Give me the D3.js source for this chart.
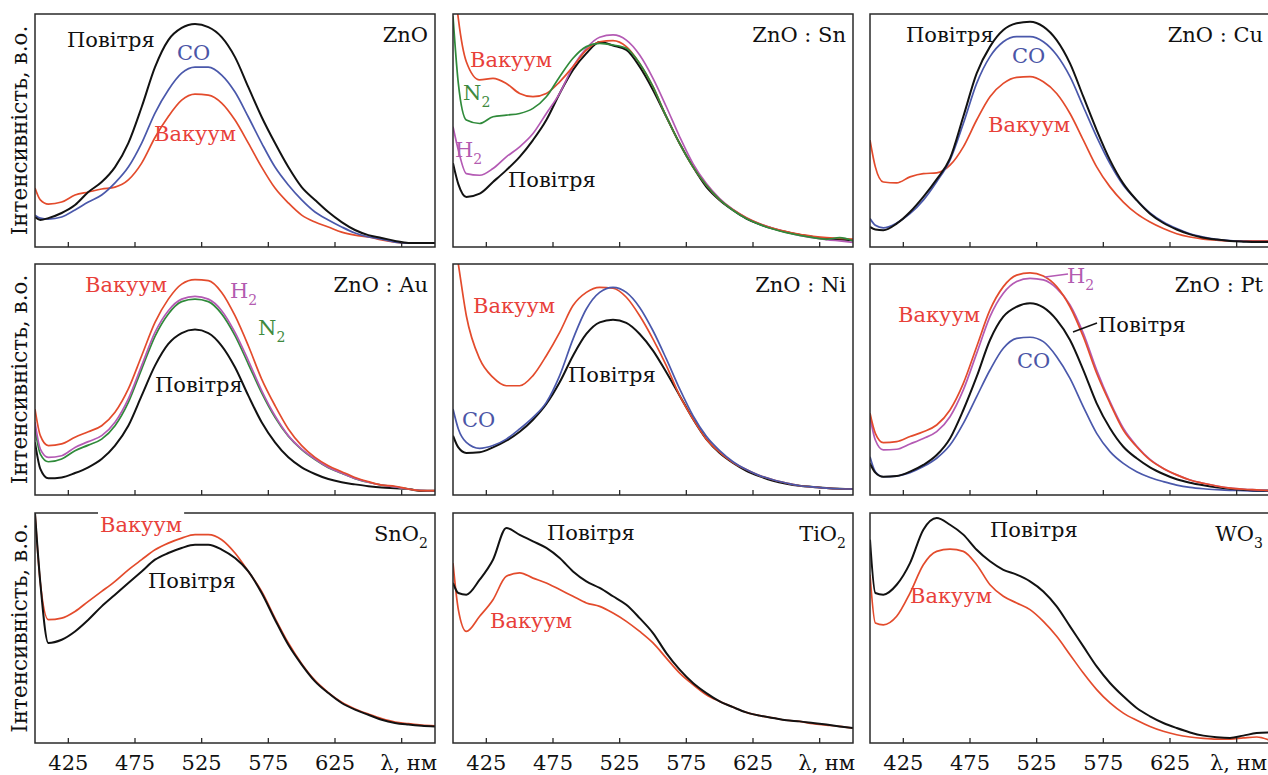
<!DOCTYPE html>
<html>
<head>
<meta charset="utf-8">
<script src="https://cdn.jsdelivr.net/npm/d3@7"></script>
<style>
  body { margin: 0; background: #fff; }
  svg { display: block; }
  text { font-family: "DejaVu Serif", "Liberation Serif", serif; }
</style>
</head>
<body>
<svg id="chart" width="1268" height="775"></svg>
<script>
'use strict';

// wavelengths, nm
var wl = [400, 404, 410, 420, 430, 440, 450, 460, 470, 480, 490, 500, 510, 520, 530, 540,
  550, 560, 570, 580, 590, 600, 610, 620, 630, 640, 650, 660, 670, 680, 690, 700];

var tickValues = [425, 475, 525, 575, 625, 675];
var tickLabels = ['425', '475', '525', '575', '625', 'λ, нм'];

// intensity, a.u. (0 = bottom of panel, 100 = top)
// ZnO
var znoAir = [12.9, 11.6, 12.4, 14.6, 18.0, 23.6, 27.9, 34.3, 44.6, 60.1, 77.2, 88.8, 94.0, 95.7, 94.4, 90.1,
  81.5, 68.6, 55.8, 44.6, 34.3, 25.7, 20.2, 15.0, 10.7, 7.3, 5.1, 3.9, 2.6, 1.7, 1.7, 1.7];
var znoCO = [13.7, 12.4, 12.0, 12.9, 15.9, 19.3, 22.3, 27.5, 34.3, 44.6, 57.5, 67.4, 74.6, 77.2, 77.2, 73.8,
  66.5, 55.8, 44.6, 34.3, 26.6, 20.2, 15.0, 11.6, 8.6, 6.0, 4.3, 3.4, 2.1, 1.7, 1.7, 1.7];
var znoVac = [25.3, 20.2, 18.4, 19.3, 22.3, 23.6, 24.9, 25.7, 28.8, 36.0, 47.0, 56.0, 63.0, 65.6, 65.2, 61.8,
  54.5, 44.6, 34.3, 25.3, 18.9, 13.7, 10.7, 8.6, 6.4, 5.1, 4.3, 3.0, 2.1, 1.7, 1.7, 1.7];

// ZnO:Sn
var snAir = [36.0, 27.0, 21.5, 22.9, 27.9, 33.0, 38.7, 45.9, 54.5, 65.9, 76.0, 83.1, 88.0, 86.5, 84.6, 77.4,
  67.4, 55.9, 44.4, 34.4, 25.8, 20.1, 15.8, 12.2, 9.7, 7.9, 6.4, 5.3, 4.3, 3.6, 3.2, 2.9];
var snH2 = [51.6, 41.6, 31.5, 30.8, 33.7, 38.7, 43.0, 48.7, 57.3, 65.9, 77.4, 85.3, 90.0, 91.0, 88.8, 82.4,
  72.4, 60.2, 47.3, 35.8, 27.2, 20.8, 16.1, 12.6, 10.0, 8.0, 6.4, 5.0, 4.0, 3.2, 2.6, 2.0];
var snN2 = [99.0, 70.2, 54.5, 53.0, 55.9, 56.6, 57.3, 59.5, 64.5, 73.1, 81.0, 86.0, 87.4, 86.7, 85.3, 78.8,
  68.8, 55.9, 44.4, 34.4, 26.5, 20.3, 15.8, 12.2, 9.7, 7.7, 6.2, 5.0, 4.0, 3.3, 4.0, 2.6];
var snVac = [120, 98.0, 79.5, 71.7, 72.4, 70.2, 65.9, 64.5, 65.9, 70.9, 77.4, 84.5, 88.1, 88.6, 86.0, 78.8,
  68.8, 55.9, 44.4, 34.4, 26.5, 20.3, 16.0, 12.6, 10.0, 8.0, 6.6, 5.4, 4.6, 4.0, 3.7, 3.4];

// ZnO:Cu
var cuAir = [8.6, 7.5, 7.2, 10.0, 15.0, 21.5, 29.0, 38.0, 56.0, 74.5, 86.0, 93.1, 96.0, 96.7, 94.6, 88.8,
  78.8, 64.5, 50.2, 37.3, 27.2, 20.1, 14.3, 10.3, 7.5, 5.4, 4.0, 3.2, 2.6, 2.3, 2.1, 2.1];
var cuCO = [12.2, 9.3, 8.2, 10.3, 14.3, 20.1, 28.0, 37.3, 53.0, 70.2, 81.7, 88.1, 90.3, 90.3, 88.1, 82.4,
  73.1, 60.2, 47.3, 35.8, 26.5, 20.1, 14.6, 10.7, 7.9, 5.7, 4.3, 3.3, 2.7, 2.4, 2.3, 2.3];
var cuVac = [45.9, 34.4, 27.9, 27.5, 30.1, 31.5, 31.8, 35.1, 43.0, 54.5, 64.5, 70.2, 72.8, 73.1, 70.9, 65.9,
  57.3, 45.9, 34.4, 25.8, 19.3, 14.3, 10.7, 7.9, 5.7, 4.3, 3.4, 2.9, 2.6, 2.6, 2.6, 2.6];

// ZnO:Au
var auVac = [37.2, 25.7, 21.4, 22.1, 25.0, 27.4, 30.0, 35.8, 45.9, 60.3, 74.7, 84.8, 91.3, 93.2, 92.8, 87.7,
  77.6, 64.6, 50.2, 38.7, 28.6, 21.4, 16.3, 12.7, 10.1, 7.6, 5.8, 4.3, 3.8, 2.6, 1.9, 1.9];
var auH2 = [31.5, 19.9, 16.3, 17.0, 20.6, 23.1, 25.7, 31.5, 41.6, 56.0, 70.4, 79.8, 84.8, 86.0, 84.8, 79.8,
  70.4, 58.2, 45.2, 34.3, 25.7, 19.9, 15.6, 12.0, 9.5, 7.2, 5.5, 4.3, 3.5, 2.6, 2.0, 1.9];
var auN2 = [28.6, 17.7, 14.4, 15.6, 19.2, 21.6, 24.2, 30.0, 40.1, 54.5, 68.7, 78.4, 83.7, 84.8, 83.7, 78.4,
  69.0, 56.7, 44.2, 33.6, 25.4, 19.6, 15.3, 11.8, 9.4, 7.1, 5.5, 4.3, 3.5, 2.6, 2.0, 1.9];
var auAir = [22.8, 11.3, 7.2, 7.6, 9.5, 12.0, 15.6, 21.4, 30.0, 43.0, 56.0, 65.4, 70.1, 71.6, 70.1, 64.6,
  55.3, 43.0, 31.5, 22.8, 16.3, 12.0, 9.1, 6.9, 5.5, 4.6, 3.8, 3.2, 2.9, 2.6, 1.7, 1.7];

// ZnO:Ni
var niVac = [115, 100, 77.6, 58.9, 50.9, 47.3, 47.3, 51.7, 60.3, 70.4, 82.0, 87.7, 89.9, 89.5, 85.6, 77.6,
  67.5, 56.0, 43.0, 32.9, 24.2, 18.5, 14.1, 11.0, 8.4, 6.6, 5.2, 4.0, 3.5, 3.0, 2.7, 2.6];
var niCO = [37.2, 28.6, 22.8, 20.2, 21.4, 24.2, 28.6, 33.6, 40.1, 51.7, 67.5, 80.5, 87.7, 89.9, 87.7, 81.2,
  71.1, 58.9, 45.9, 34.3, 25.4, 19.2, 14.4, 11.0, 8.4, 6.6, 5.2, 4.0, 3.5, 3.0, 2.7, 2.6];
var niAir = [25.7, 20.6, 18.2, 18.5, 20.6, 23.5, 27.4, 32.6, 39.4, 48.8, 60.3, 69.7, 74.7, 75.9, 74.5, 69.7,
  62.5, 53.1, 43.0, 32.9, 24.2, 18.2, 13.9, 10.5, 8.1, 6.2, 4.9, 4.0, 3.5, 3.0, 2.7, 2.6];

// ZnO:Pt
var ptVac = [35.4, 26.7, 22.7, 23.1, 25.3, 27.4, 30.3, 36.8, 48.3, 64.2, 80.1, 90.2, 95.2, 96.2, 94.8, 90.2,
  81.5, 68.5, 52.7, 39.7, 28.1, 20.9, 15.2, 11.5, 8.7, 6.5, 5.1, 3.9, 3.0, 2.5, 2.2, 1.9];
var ptH2 = [33.9, 23.8, 19.5, 19.8, 22.1, 24.5, 27.4, 33.9, 45.5, 61.3, 77.2, 87.3, 92.4, 93.8, 93.1, 89.5,
  82.3, 70.0, 54.1, 40.4, 28.9, 21.2, 15.4, 11.5, 8.7, 6.5, 5.1, 3.9, 3.0, 2.5, 2.2, 1.9];
var ptAir = [13.7, 9.7, 7.9, 8.2, 10.1, 13.0, 17.3, 24.5, 36.8, 51.2, 67.1, 77.2, 81.5, 83.0, 81.2, 75.8,
  67.1, 54.1, 39.7, 28.9, 20.9, 15.9, 12.0, 9.1, 6.8, 5.3, 4.2, 3.3, 2.7, 2.3, 2.0, 1.9];
var ptCO = [16.6, 10.1, 7.9, 8.2, 9.7, 12.3, 15.9, 21.6, 31.0, 42.6, 54.1, 63.5, 67.8, 68.3, 66.4, 59.9,
  50.5, 38.2, 26.7, 18.8, 13.7, 10.1, 7.6, 5.8, 4.3, 3.3, 2.7, 2.3, 2.0, 1.9, 1.7, 1.7];

// SnO2
var sno2Vac = [100, 69.6, 53.6, 54.3, 57.2, 61.6, 65.9, 70.3, 75.3, 79.7, 84.0, 86.9, 89.1, 90.6, 90.6, 88.4,
  82.6, 74.6, 65.9, 54.3, 43.5, 34.5, 27.2, 21.9, 17.7, 14.8, 12.6, 10.6, 9.1, 8.4, 7.8, 7.5];
var sno2Air = [100, 69.6, 43.5, 44.9, 48.5, 53.6, 59.4, 64.5, 69.6, 74.6, 79.7, 82.6, 84.8, 86.2, 86.2, 84.1,
  80.4, 74.6, 65.2, 53.6, 42.7, 34.1, 26.8, 21.7, 17.4, 14.5, 12.3, 10.1, 8.7, 8.0, 7.5, 7.2];

// TiO2
var tio2Air = [69.6, 65.2, 64.5, 71.0, 79.7, 93.5, 90.5, 87.7, 84.8, 80.4, 74.6, 70.3, 67.4, 63.8, 60.1, 54.3,
  47.8, 39.1, 31.9, 26.1, 21.7, 18.1, 15.6, 13.3, 11.9, 10.9, 9.9, 9.4, 8.7, 8.0, 7.2, 6.5];
var tio2Vac = [78.2, 58.0, 48.5, 55.1, 62.3, 72.5, 74.0, 71.7, 69.6, 66.7, 63.8, 60.9, 59.4, 56.5, 52.9, 48.5,
  43.5, 36.9, 30.4, 25.4, 21.0, 18.1, 15.6, 13.3, 11.9, 10.9, 9.9, 9.4, 8.4, 7.8, 7.2, 6.4];

// WO3
var wo3Air = [88.4, 65.2, 64.5, 68.8, 78.2, 92.7, 97.8, 94.9, 90.6, 84.0, 79.0, 75.3, 73.2, 70.3, 65.9, 59.4,
  50.7, 42.0, 33.3, 26.1, 20.3, 15.2, 11.6, 8.7, 6.5, 4.6, 3.2, 2.5, 2.2, 3.2, 4.3, 4.6];
var wo3Vac = [73.2, 52.2, 51.4, 55.1, 65.2, 77.5, 83.3, 84.3, 83.3, 77.5, 68.8, 63.8, 60.9, 58.0, 52.9, 46.4,
  38.4, 30.4, 23.2, 17.4, 13.0, 9.9, 7.2, 5.1, 3.6, 2.6, 2.0, 1.7, 1.7, 2.2, 2.6, 1.2];

var C = {
  air: '#121212', co: '#4a58ab', vac: '#e34b2c', h2: '#b45ab4', n2: '#2f8a3a'
};
var T = {
  air: '#111', co: '#4b55a6', vac: '#e8403a', h2: '#b35bb0', n2: '#3e8a3e'
};

var colX = [35, 453, 870];
var rowY = [14, 264, 513];
var rowH = [233, 231, 230];
var W = 400;

// label: [series key, text, subscript, x, baseline, white box?]
var panels = [
  { title: 'ZnO', col: 0, row: 0,
    series: [['vac', znoVac], ['co', znoCO], ['air', znoAir]],
    labels: [['air', 'Повітря', '', 32, 33], ['co', 'CO', '', 142, 46], ['vac', 'Вакуум', '', 119, 127]] },
  { title: 'ZnO : Sn', col: 1, row: 0,
    series: [['air', snAir], ['h2', snH2], ['vac', snVac], ['n2', snN2]],
    labels: [['vac', 'Вакуум', '', 17, 53], ['n2', 'N', '2', 10, 86], ['h2', 'H', '2', 2, 143], ['air', 'Повітря', '', 55, 173]] },
  { title: 'ZnO : Cu', col: 2, row: 0,
    series: [['vac', cuVac], ['co', cuCO], ['air', cuAir]],
    labels: [['air', 'Повітря', '', 36, 28], ['co', 'CO', '', 142, 49], ['vac', 'Вакуум', '', 118, 118]] },
  { title: 'ZnO : Au', col: 0, row: 1,
    series: [['air', auAir], ['n2', auN2], ['h2', auH2], ['vac', auVac]],
    labels: [['vac', 'Вакуум', '', 50, 28], ['h2', 'H', '2', 195, 34], ['n2', 'N', '2', 223, 71], ['air', 'Повітря', '', 120, 128]] },
  { title: 'ZnO : Ni', col: 1, row: 1,
    series: [['air', niAir], ['vac', niVac], ['co', niCO]],
    labels: [['vac', 'Вакуум', '', 20, 49], ['co', 'CO', '', 9, 163], ['air', 'Повітря', '', 115, 118]] },
  { title: 'ZnO : Pt', col: 2, row: 1,
    series: [['co', ptCO], ['air', ptAir], ['h2', ptH2], ['vac', ptVac]],
    labels: [['vac', 'Вакуум', '', 28, 58], ['h2', 'H', '2', 197, 19], ['air', 'Повітря', '', 228, 68], ['co', 'CO', '', 147, 104]],
    leaders: [['h2', 175, 13, 198, 10], ['air', 203, 68, 227, 59]] },
  { title: 'SnO', sub: '2', col: 0, row: 2,
    series: [['vac', sno2Vac], ['air', sno2Air]],
    labels: [['vac', 'Вакуум', '', 65, 19, true], ['air', 'Повітря', '', 113, 75]] },
  { title: 'TiO', sub: '2', col: 1, row: 2,
    series: [['vac', tio2Vac], ['air', tio2Air]],
    labels: [['air', 'Повітря', '', 94, 27], ['vac', 'Вакуум', '', 37, 115]] },
  { title: 'WO', sub: '3', col: 2, row: 2,
    series: [['vac', wo3Vac], ['air', wo3Air]],
    labels: [['air', 'Повітря', '', 120, 24], ['vac', 'Вакуум', '', 40, 90]] }
];

var svg = d3.select('#chart');

var x = d3.scaleLinear().domain([400, 700]).range([0, W]);

function addText(g, txt, sub, px, py, color, anchor) {
  var t = g.append('text')
    .attr('x', px).attr('y', py)
    .attr('fill', color)
    .attr('font-size', 21)
    .attr('text-anchor', anchor || 'start')
    .text(txt);
  if (sub) {
    t.append('tspan').attr('font-size', 14).attr('dy', 7).text(sub);
  }
  return t;
}

panels.forEach(function (p, pi) {
  var h = rowH[p.row];
  var y = d3.scaleLinear().domain([0, 100]).range([h, 0]);
  var g = svg.append('g').attr('transform', 'translate(' + colX[p.col] + ',' + rowY[p.row] + ')');

  g.append('clipPath').attr('id', 'clip' + pi)
    .append('rect').attr('width', W).attr('height', h);

  var line = d3.line()
    .x(function (d, i) { return x(wl[i]); })
    .y(function (d) { return y(d); })
    .curve(d3.curveMonotoneX);

  g.append('g').attr('clip-path', 'url(#clip' + pi + ')')
    .selectAll('path')
    .data(p.series)
    .enter()
    .append('path')
    .attr('d', function (d) { return line(d[1]); })
    .attr('fill', 'none')
    .attr('stroke', function (d) { return C[d[0]]; })
    .attr('stroke-width', function (d) { return d[0] === 'air' ? 2 : 1.7; })
    .attr('stroke-linejoin', 'round');

  // frame
  g.append('rect')
    .attr('width', W).attr('height', h)
    .attr('fill', 'none')
    .attr('stroke', '#2a2a2a')
    .attr('stroke-width', 1.5);

  // ticks (inward)
  g.selectAll('line.tick')
    .data(tickValues)
    .enter()
    .append('line')
    .attr('class', 'tick')
    .attr('x1', function (d) { return x(d); })
    .attr('x2', function (d) { return x(d); })
    .attr('y1', h)
    .attr('y2', h - 5)
    .attr('stroke', '#2a2a2a')
    .attr('stroke-width', 1.3);

  if (p.row === 2) {
    var last = p.col === 2;
    g.selectAll('text.tl')
      .data(tickValues)
      .enter()
      .append('text')
      .attr('class', 'tl')
      .attr('x', function (d, i) {
        if (i === 5) return last ? W - 3 : x(d) + 7;
        return x(d);
      })
      .attr('y', h + 27)
      .attr('text-anchor', function (d, i) { return (i === 5 && last) ? 'end' : 'middle'; })
      .attr('font-size', 21)
      .attr('fill', '#111')
      .text(function (d, i) { return tickLabels[i]; });
  }

  (p.leaders || []).forEach(function (l) {
    g.append('line')
      .attr('x1', l[1]).attr('y1', l[2]).attr('x2', l[3]).attr('y2', l[4])
      .attr('stroke', C[l[0]]).attr('stroke-width', 1.6);
  });

  var all = p.labels.map(function (l) {
    return { color: T[l[0]], txt: l[1], sub: l[2], px: l[3], py: l[4], anchor: 'start', box: !!l[5], edge: !!l[5] };
  });
  all.push({ color: '#111', txt: p.title, sub: p.sub, px: W - 7, py: 28, anchor: 'end', box: true });

  all.forEach(function (l) {
    var bg = l.box ? g.append('rect').attr('fill', '#fff') : null;
    var t = addText(g, l.txt, l.sub, l.px, l.py, l.color, l.anchor);
    if (bg) {
      var b = t.node().getBBox();
      // a label sitting on the frame hides that part of the frame
      var top = l.edge ? -2 : b.y + 2;
      bg.attr('x', b.x - 2).attr('y', top)
        .attr('width', b.width + 4).attr('height', b.y + b.height - 1 - top);
    }
  });
});

// y-axis titles
rowY.forEach(function (ry, r) {
  svg.append('text')
    .attr('transform', 'translate(27,' + (ry + rowH[r] / 2) + ') rotate(-90)')
    .attr('text-anchor', 'middle')
    .attr('font-size', 21.5)
    .attr('fill', '#111')
    .text('Інтенсивність, в.о.');
});
</script>
</body>
</html>
